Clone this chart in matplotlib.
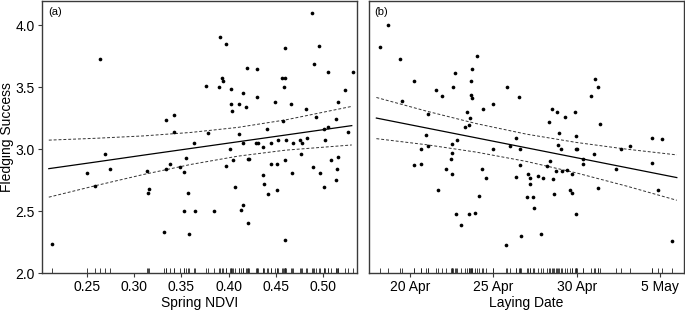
import matplotlib
matplotlib.use("Agg")
import matplotlib.pyplot as plt
import numpy as np

plt.rcParams['font.family'] = ['Liberation Sans', 'DejaVu Sans']

# panel (a): spring NDVI vs fledging success
ndvi = [0.2637, 0.3338, 0.3422, 0.3422,
        0.4883, 0.3905, 0.3975, 0.4595, 0.4951, 0.4898, 0.4197, 0.4302, 0.5052, 0.5313,
        0.3929, 0.3937, 0.4563, 0.4598, 0.3757, 0.3901, 0.4027, 0.4581, 0.5232, 0.4154,
        0.4296, 0.4486, 0.5158, 0.4021, 0.4112, 0.4655, 0.4035, 0.4183, 0.4820, 0.4925,
        0.5130, 0.4570, 0.3785, 0.4408, 0.5010, 0.5052, 0.4112, 0.5263,
        0.4517, 0.4602, 0.4753, 0.4827, 0.5020, 0.4014, 0.4151, 0.4292, 0.4306, 0.4359,
        0.4447, 0.4682, 0.4771, 0.4764, 0.4049, 0.4204, 0.4215, 0.4598, 0.3975, 0.4444,
        0.4510, 0.5081, 0.5151, 0.4890, 0.4665, 0.4964, 0.5144, 0.4362, 0.4376, 0.4063,
        0.4507, 0.4418, 0.5003, 0.5133, 0.3848, 0.4148, 0.4130, 0.4207, 0.4598,
        0.3637, 0.2693, 0.2503, 0.2749, 0.2585, 0.3134, 0.3377, 0.3338, 0.3486, 0.3549,
        0.3528, 0.3161, 0.3151, 0.3567, 0.3528, 0.3641, 0.3320, 0.3581, 0.2130]
success_a = [3.728, 3.236, 3.277, 3.142,
             4.097, 3.908, 3.847, 3.815, 3.835, 3.690, 3.656, 3.645, 3.626, 3.626,
             3.573, 3.553, 3.573, 3.573, 3.510, 3.500, 3.486, 3.500, 3.478, 3.456,
             3.424, 3.384, 3.384, 3.363, 3.363, 3.363, 3.309, 3.341, 3.323, 3.258,
             3.247, 3.228, 3.134, 3.164, 3.164, 3.182, 3.121, 3.142,
             3.077, 3.077, 3.077, 3.089, 3.077, 3.005, 3.048, 3.048, 3.048, 3.016,
             3.048, 3.048, 3.048, 2.962, 2.911, 2.922, 2.922, 2.911, 2.868, 2.879,
             2.879, 2.911, 2.940, 2.857, 2.806, 2.806, 2.839, 2.795, 2.720, 2.698,
             2.672, 2.637, 2.698, 2.755, 2.502, 2.553, 2.510, 2.406, 2.269,
             3.048, 2.965, 2.806, 2.839, 2.702, 2.827, 2.879, 2.839, 2.857, 2.930,
             2.817, 2.682, 2.650, 2.648, 2.502, 2.502, 2.333, 2.315, 2.239]

# fitted line and confidence band
fit_a_x = [0.21, 0.26, 0.31, 0.36, 0.41, 0.46, 0.53]
fit_a_y = [2.844, 2.898, 2.953, 3.007, 3.061, 3.115, 3.191]
fit_a_hi = [3.074, 3.089, 3.108, 3.136, 3.177, 3.237, 3.346]
fit_a_lo = [2.614, 2.708, 2.797, 2.878, 2.945, 2.993, 3.035]

# panel (b): laying date (day of April) vs fledging success
lay_day = [18.20, 18.70, 19.40, 20.24, 19.54, 21.58, 21.95, 22.59, 22.70, 24.05,
           23.73, 23.67, 23.69, 23.71, 25.85, 26.55, 24.99, 24.37, 21.10, 23.43,
           23.63, 23.31, 23.55, 20.98, 26.35,
           22.85, 20.70, 21.11, 22.55, 22.53, 22.46, 24.97, 26.03, 26.63, 20.26,
           20.68, 22.17, 22.53, 24.31, 24.55, 26.61, 26.39, 21.68, 24.13, 22.76,
           23.55, 23.91, 23.06, 26.69, 25.75,
           31.12, 31.30, 30.84, 28.53, 28.84, 29.90, 29.29, 28.37, 31.40, 28.93,
           29.95, 34.50, 35.10,
           28.89, 29.07, 29.95, 30.02, 31.02, 32.66, 33.20, 30.40, 30.40, 32.38,
           34.50, 28.39, 28.24, 28.77, 29.11, 29.41, 29.71, 27.07, 27.23, 27.67,
           27.99, 28.59, 27.19, 27.05, 27.37, 29.59, 29.74, 28.66, 31.26, 34.88,
           27.43, 29.96, 27.87, 35.72]
success_b = [3.823, 4.002, 3.731, 3.553, 3.392, 3.481, 3.430, 3.502, 3.613, 3.752,
             3.650, 3.553, 3.440, 3.411, 3.502, 3.422, 3.363, 3.323, 3.282, 3.301,
             3.252, 3.182, 3.194, 3.113, 3.094,
             3.073, 3.000, 3.029, 3.040, 2.970, 2.919, 3.000, 3.029, 3.000, 2.871,
             2.881, 2.841, 2.801, 2.841, 2.771, 2.871, 2.779, 2.672, 2.621, 2.478,
             2.478, 2.489, 2.390, 2.301, 2.231,
             3.569, 3.500, 3.430, 3.323, 3.301, 3.301, 3.260, 3.220, 3.202, 3.131,
             3.110, 3.091, 3.083,
             3.032, 3.000, 3.000, 3.000, 2.962, 3.000, 3.029, 2.919, 2.879, 2.841,
             2.890, 2.903, 2.868, 2.823, 2.823, 2.831, 2.801, 2.801, 2.771, 2.787,
             2.771, 2.760, 2.720, 2.613, 2.618, 2.669, 2.650, 2.640, 2.690, 2.669,
             2.529, 2.478, 2.319, 2.258]

fit_b_x = [18, 21, 24, 27, 30, 33, 36]
fit_b_y = [3.252, 3.172, 3.092, 3.012, 2.932, 2.852, 2.772]
fit_b_hi = [3.418, 3.308, 3.207, 3.122, 3.055, 3.001, 2.955]
fit_b_lo = [3.086, 3.037, 2.977, 2.902, 2.809, 2.703, 2.589]

date_ticks = [20, 25, 30, 35]
date_labels = ['20 Apr', '25 Apr', '30 Apr', '5 May']

spine_col = '#3a3a3a'


def panel(ax, x, y, fx, fy, fhi, flo, tag):
    ax.scatter(x, y, s=7, color='black', linewidths=0, zorder=3)
    ax.plot(fx, fy, color='black', lw=0.9)
    ax.plot(fx, fhi, color='#333333', lw=0.7, ls=(0, (3, 2)))
    ax.plot(fx, flo, color='#333333', lw=0.7, ls=(0, (3, 2)))
    # rug along the bottom
    ax.vlines(x, 2.0, 2.045, color='#222222', lw=0.6)
    ax.set_ylim(2.0, 4.2)
    for s in ax.spines.values():
        s.set_color(spine_col)
        s.set_linewidth(1.0)
    ax.tick_params(axis='x', length=3, width=0.8, pad=2, labelsize=10, color=spine_col)
    ax.text(0.019, 0.958, tag, transform=ax.transAxes, fontsize=8, va='center', ha='left')


fig = plt.figure(figsize=(6.85, 3.13), dpi=100)
ax1 = fig.add_axes([0.0613, 0.1268, 0.4594, 0.8716])
ax2 = fig.add_axes([0.538, 0.1268, 0.461, 0.8716])

panel(ax1, ndvi, success_a, fit_a_x, fit_a_y, fit_a_hi, fit_a_lo, '(a)')
ax1.set_xlim(0.2028, 0.5352)
ax1.set_xticks([0.25, 0.30, 0.35, 0.40, 0.45, 0.50])
ax1.set_xticklabels(['0.25', '0.30', '0.35', '0.40', '0.45', '0.50'])
ax1.set_yticks([2.0, 2.5, 3.0, 3.5, 4.0])
ax1.set_yticklabels(['2.0', '2.5', '3.0', '3.5', '4.0'])
ax1.tick_params(axis='y', length=3, width=0.8, pad=2, labelsize=10, color=spine_col)
ax1.set_xlabel('Spring NDVI', fontsize=10, labelpad=1.5)
ax1.set_ylabel('Fledging Success', fontsize=10, labelpad=1)

panel(ax2, lay_day, success_b, fit_b_x, fit_b_y, fit_b_hi, fit_b_lo, '(b)')
ax2.set_xlim(17.53, 36.45)
ax2.set_xticks(date_ticks)
ax2.set_xticklabels(date_labels)
ax2.set_yticks([])
ax2.set_xlabel('Laying Date', fontsize=10, labelpad=1.5)

fig.savefig('out.png', dpi=100)
